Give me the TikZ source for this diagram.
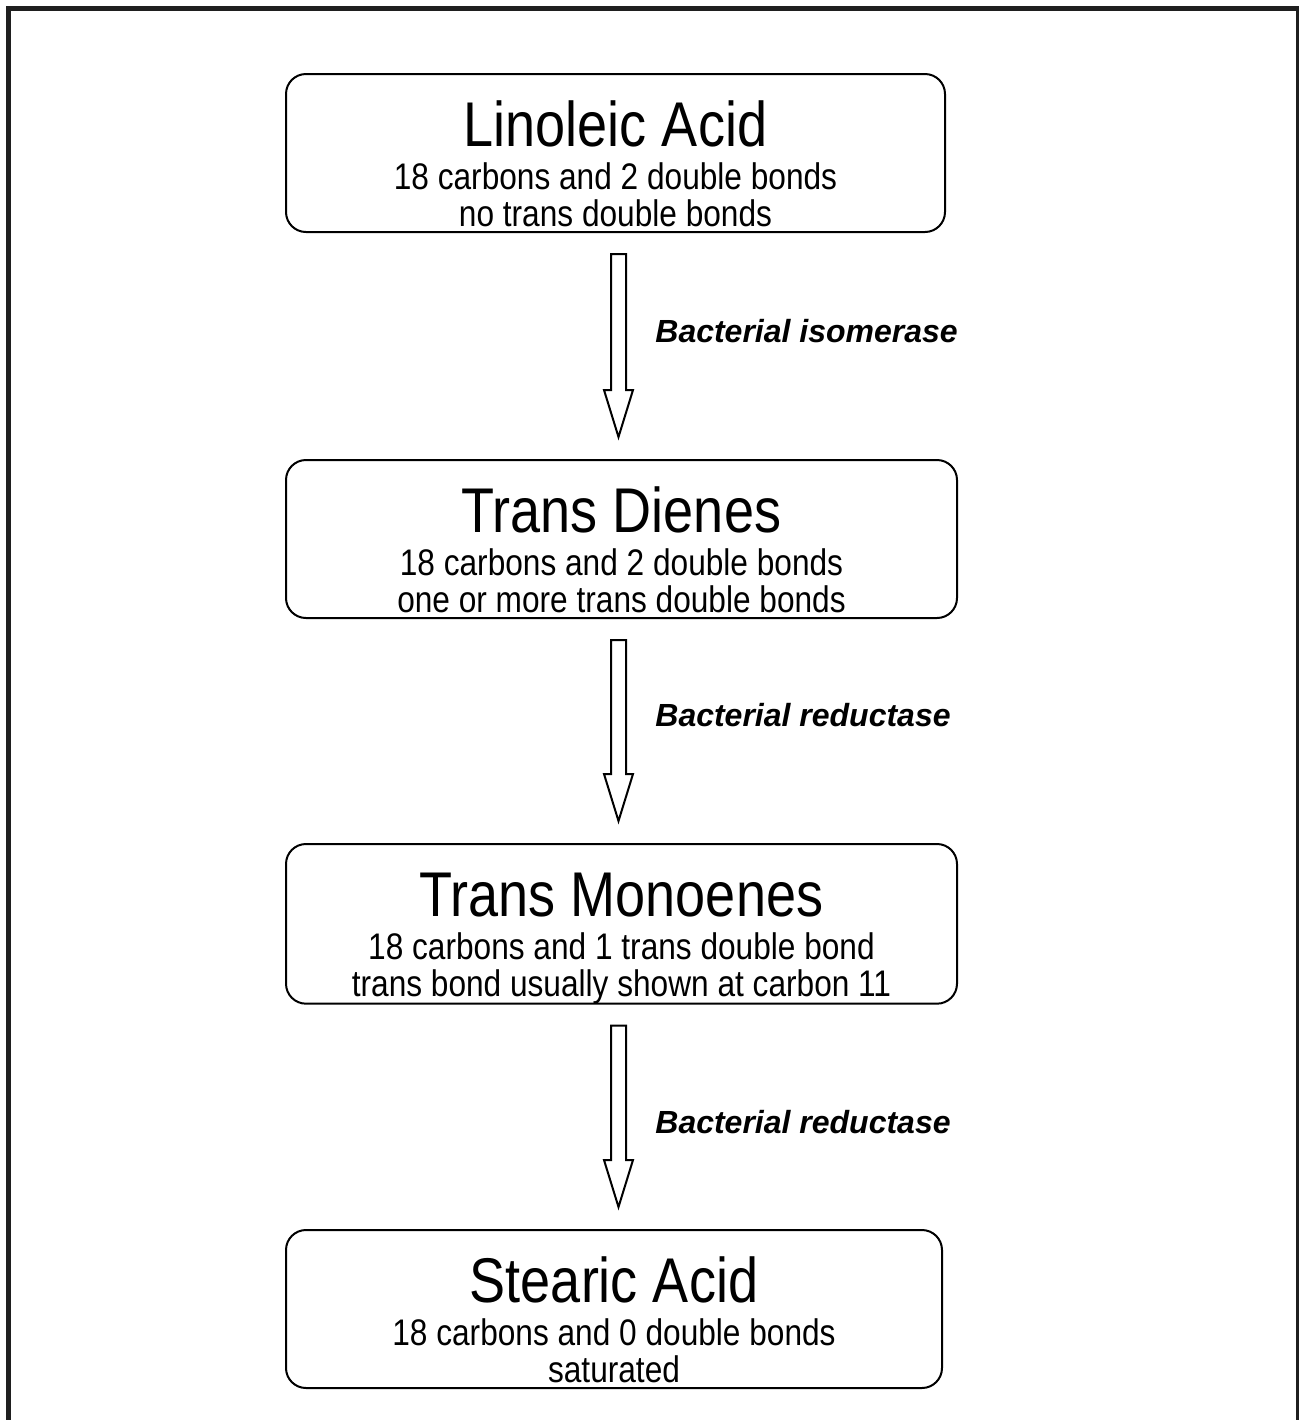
\documentclass[tikz,border=0pt]{standalone}
\usepackage{fontspec}
\setmainfont{Liberation Sans}
\newfontfamily\namefont[FakeStretch=0.855]{Liberation Sans}
\usetikzlibrary{calc}

% title line of a stage box, strut keeps the text block in place
\newcommand{\stagename}[1]{\rule{0pt}{36pt}{\fontsize{31.6}{32}\selectfont #1}\\[3pt]}
\newcommand{\lastline}{\rule[-3pt]{0pt}{3pt}}

\begin{document}
\begin{tikzpicture}[x=0.5pt, y=-0.5pt,
    stage/.style={draw, line width=1pt, rounded corners=10pt, anchor=north west,
      minimum height=79pt, inner sep=0pt, align=center,
      font=\namefont\fontsize{18.5}{18.5}\selectfont},
    hollow/.style={draw, line width=1pt, line join=miter},
    enzyme/.style={anchor=west, inner sep=0pt, font=\fontsize{16}{19}\selectfont\bfseries\itshape}]
  \useasboundingbox (0,0) rectangle (1299,1420);
  \draw[line width=2.5pt, black!88] (8.5,8.5) rectangle (1298.5,1440);

  \node[stage, minimum width=329.5pt] (LA) at (285,73)
    {\stagename{Linoleic Acid}18 carbons and 2 double bonds\\no trans double bonds\lastline};
  \node[stage, minimum width=335.5pt] (TD) at (285,459)
    {\stagename{Trans Dienes}18 carbons and 2 double bonds\\one or more trans double bonds\lastline};
  \node[stage, minimum width=335.5pt] (TM) at (285,843)
    {\stagename{Trans Monoenes}18 carbons and 1 trans double bond\\trans bond usually shown at carbon 11\lastline};
  \node[stage, minimum width=328pt] (SA) at (285,1229)
    {\stagename{Stearic Acid}18 carbons and 0 double bonds\\saturated\lastline};

  \coordinate (ax) at (618.5,0);
  \foreach \a/\b in {LA/TD, TD/TM, TM/SA}
    \draw[hollow] ($(ax |- \a.south)+(-7.5,21)$) -- ($(ax |- \a.south)+(7.5,21)$)
      -- ($(ax |- \b.north)+(7.5,-69)$) -- ($(ax |- \b.north)+(14.5,-69)$)
      -- ($(ax |- \b.north)+(0,-22)$) -- ($(ax |- \b.north)+(-14.5,-69)$)
      -- ($(ax |- \b.north)+(-7.5,-69)$) -- cycle;

  \node[enzyme] (iso) at (655,331) {Bacterial isomerase};
  \node[enzyme] (red1) at (655,715) {Bacterial reductase};
  \node[enzyme] (red2) at (655,1122) {Bacterial reductase};
\end{tikzpicture}
\end{document}
